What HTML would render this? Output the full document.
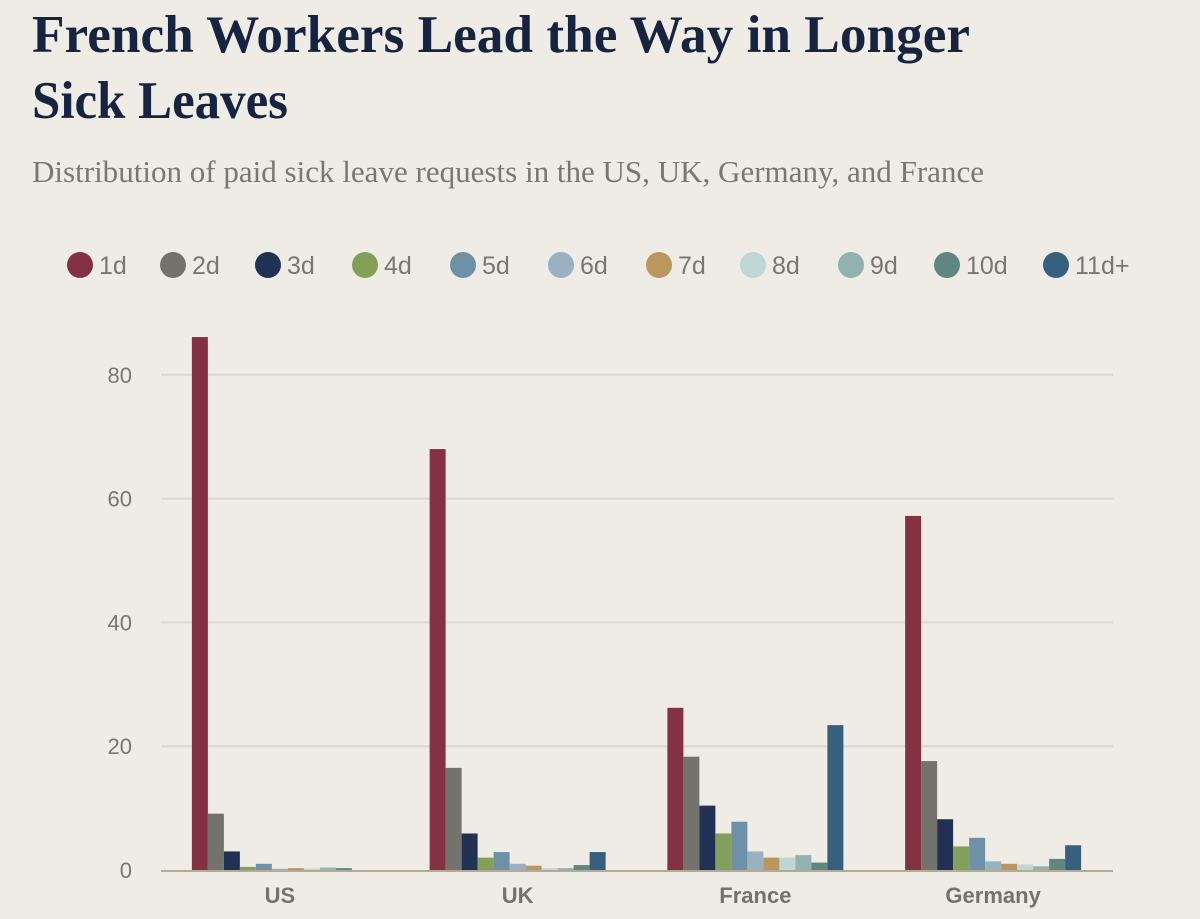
<!DOCTYPE html>
<html><head><meta charset="utf-8"><style>
html,body{margin:0;padding:0;background:#efece5;}
svg{display:block;}
</style></head><body>
<svg id="chart" width="1200" height="919" viewBox="0 0 1200 919" xmlns="http://www.w3.org/2000/svg">
<rect width="1200" height="919" fill="#efece5"/>
<text x="32" y="52" font-family="Liberation Serif, serif" font-weight="bold" font-size="53" fill="#172441" textLength="938" lengthAdjust="spacingAndGlyphs">French Workers Lead the Way in Longer</text>
<text x="32" y="118" font-family="Liberation Serif, serif" font-weight="bold" font-size="53" fill="#172441" textLength="256" lengthAdjust="spacingAndGlyphs">Sick Leaves</text>
<text x="32" y="182" font-family="Liberation Serif, serif" font-size="31" fill="#7a7770" textLength="952" lengthAdjust="spacingAndGlyphs">Distribution of paid sick leave requests in the US, UK, Germany, and France</text>
<g id="legend"></g>
<g id="grid"></g>
<g id="bars"></g>
<g id="axes"></g>
</svg>
<script>
const categories = ["US","UK","France","Germany"];
const seriesNames = ["1d","2d","3d","4d","5d","6d","7d","8d","9d","10d","11d+"];
const seriesColors = ["#843242","#74726d","#223254","#83a05a","#6e91a8","#9ab1c2","#b9975e","#bfd7d4","#91b2af","#5f877f","#36607d"];
const usValues = [86.1, 9.1, 3.0, 0.5, 1.0, 0.2, 0.3, 0.2, 0.4, 0.3, 0];
const ukValues = [68.0, 16.5, 5.9, 2.0, 2.9, 1.0, 0.7, 0.3, 0.3, 0.8, 2.9];
const franceValues = [26.2, 18.3, 10.4, 5.9, 7.8, 3.0, 2.0, 2.0, 2.4, 1.2, 23.4];
const germanyValues = [57.2, 17.6, 8.2, 3.8, 5.2, 1.4, 1.0, 0.9, 0.6, 1.8, 4.0];
const yTicks = [0, 20, 40, 60, 80];
const legendX = [80, 173, 268, 365, 463, 561, 659, 753, 851, 947, 1056];

const NS = "http://www.w3.org/2000/svg";
const allValues = [usValues, ukValues, franceValues, germanyValues];
const plotL = 161, plotR = 1112, y0 = 870, pxPerUnit = 6.19;
function yScale(v){ return y0 - v * pxPerUnit; }
const bandW = (plotR - plotL) / categories.length;
const barW = 16;
function xBar(ci, si){ return plotL + ci * bandW + (bandW - barW * seriesNames.length) / 2 + si * barW; }
function mk(tag, attrs, parent){ const e = document.createElementNS(NS, tag); for (const k in attrs) e.setAttribute(k, attrs[k]); parent.appendChild(e); return e; }

const legend = document.getElementById('legend');
seriesNames.forEach((n, i) => {
  const c = mk('circle', {cx: legendX[i], cy: 265, r: 13, fill: seriesColors[i]}, legend);
  
  
  const t = mk('text', {x: legendX[i] + 19, y: 274, 'font-family': 'Liberation Sans, sans-serif', 'font-size': 25, fill: '#7a7770'}, legend);
  t.textContent = n;
  
  
});

const grid = document.getElementById('grid');
yTicks.forEach(v => {
  if (v > 0) {
    const l = mk('line', {x1: plotL, x2: plotR + 1, y1: yScale(v), y2: yScale(v), stroke: '#dcd8cf', 'stroke-width': 2}, grid);
    
    
  }
  const t = mk('text', {x: 132, y: yScale(v) + 8, 'text-anchor': 'end', 'font-family': 'Liberation Sans, sans-serif', 'font-size': 22, fill: '#7a7770'}, grid);
  t.textContent = v;
  
  
});

const bars = document.getElementById('bars');
allValues.forEach((vals, ci) => {
  vals.forEach((v, si) => {
    const r = mk('rect', {x: xBar(ci, si), y: yScale(v), width: barW, height: v * pxPerUnit, fill: seriesColors[si]}, bars);
    
    
  });
});

const axes = document.getElementById('axes');
const ax = mk('line', {x1: plotL, x2: plotR + 1, y1: y0 + 1, y2: y0 + 1, stroke: '#b3aa9a', 'stroke-width': 2}, axes);


categories.forEach((c, ci) => {
  const t = mk('text', {x: plotL + ci * bandW + bandW / 2, y: 903, 'text-anchor': 'middle', 'font-family': 'Liberation Sans, sans-serif', 'font-weight': 'bold', 'font-size': 22, fill: '#74726d'}, axes);
  t.textContent = c;
  
  
});
</script>
</body></html>
